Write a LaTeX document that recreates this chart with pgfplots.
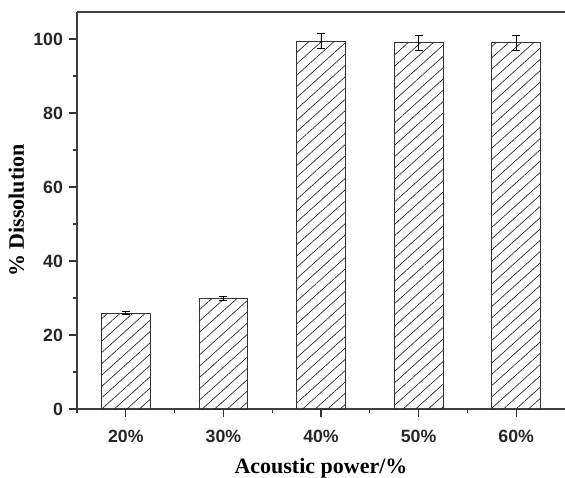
\documentclass[border=0pt]{standalone}
\usepackage{fontspec}
\setmainfont{Liberation Serif}
\setsansfont{Liberation Sans}
\usepackage{pgfplots}
\pgfplotsset{compat=1.18}
\usetikzlibrary{patterns.meta}
\begin{document}
\begin{tikzpicture}
\useasboundingbox (0pt,0pt) rectangle (423.75pt,358.5pt);
\begin{axis}[
  at={(57.75pt,51.75pt)}, anchor=south west,
  scale only axis,
  width=366pt, height=297.75pt,
  xmin=-0.5, xmax=4.5,
  ymin=0, ymax=107.3,
  axis y line*=left, axis x line*=bottom,
  axis line style={line width=1pt, black!75, -},
  xtick={0,1,2,3,4},
  xticklabels={20\%,30\%,40\%,50\%,60\%},
  minor xtick={-0.5,0.5,1.5,2.5,3.5},
  ytick={0,20,40,60,80,100},
  minor ytick={10,30,50,70,90},
  tick align=outside,
  major tick length=6pt,
  minor tick length=3pt,
  every tick/.style={black!80, line width=0.8pt},
  tick label style={font=\fontsize{13.3}{15}\selectfont\sffamily\bfseries, text=black!85},
  /pgf/number format/assume math mode=true,
  xticklabel style={yshift=-6pt},
  yticklabel style={xshift=-1pt},
  xlabel={Acoustic power/\%},
  ylabel={\% Dissolution},
  label style={font=\fontsize{16.5}{19}\selectfont\bfseries},
  xlabel style={yshift=-5pt},
  ylabel style={yshift=0pt},
  clip=false,
]
\addplot[ybar, bar width=0.5, draw=black!80, line width=0.6pt,
  pattern={Lines[angle=42, distance=6.3pt, line width=0.5pt]}, pattern color=black!85,
  error bars/.cd, y dir=both, y explicit,
  error bar style={black, line width=0.6pt},
  error mark options={rotate=90, mark size=3pt, line width=0.6pt, black}]
  coordinates {
  (0,25.9) +- (0,0.45)
  (1,29.9) +- (0,0.6)
  (2,99.4) +- (0,2.0)
  (3,99.0) +- (0,2.0)
  (4,99.0) +- (0,2.0)
  };
\draw[line width=1pt, black!75] (rel axis cs:0,1) -- (rel axis cs:1,1);
\end{axis}
\end{tikzpicture}
\end{document}
